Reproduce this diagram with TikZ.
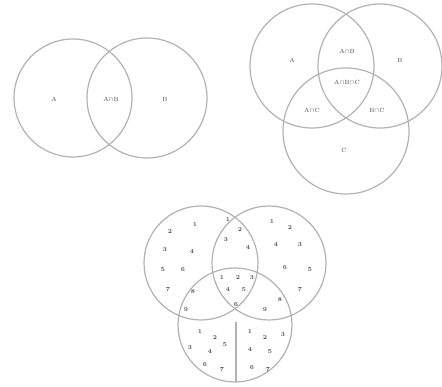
\documentclass[tikz,border=0pt]{standalone}
\begin{document}
\begin{tikzpicture}[x=1pt,y=-1pt,
  setc/.style={draw=gray!60,line width=1.2pt},
  lab/.style={font=\fontsize{6}{6}\selectfont,text=gray!60!black,inner sep=0.5pt},
  num/.style={font=\fontsize{6}{6}\selectfont\bfseries,text=gray!60!black,inner sep=0.3pt}]
\useasboundingbox (0,0) rectangle (442,387);
% two-set
\draw[setc] (73,98) circle (59);
\draw[setc] (147,98) circle (60);
\node[lab] (a2) at (54,99) {A};
\node[lab] (ab2) at (111,99) {A$\cap$B};
\node[lab] (b2) at (165,99) {B};
% three-set
\draw[setc] (312,66) circle (62);
\draw[setc] (380,66) circle (62);
\draw[setc] (346,131) circle (63);
\node[lab] (a3) at (292,60) {A};
\node[lab] (b3) at (400,60) {B};
\node[lab] (ab3) at (347,51) {A$\cap$B};
\node[lab] (abc3) at (347,82) {A$\cap$B$\cap$C};
\node[lab] (ac3) at (312,110) {A$\cap$C};
\node[lab] (bc3) at (377,110) {B$\cap$C};
\node[lab] (c3) at (344,150) {C};
% four-set
\draw[setc] (201,263) circle (57);
\draw[setc] (269,263) circle (57);
\draw[setc] (235,325) circle (57);
\coordinate (v1) at (236,322);
\coordinate (v2) at (236,382);
\draw[setc] (v1) -- (v2);
\foreach \p/\t in {(195,225)/1,(170,232)/2,(165,250)/3,(192,252)/4,(163,270)/5,(183,270)/6,(168,290)/7,(193,292)/8,(186,310)/9,
 (228,220)/1,(240,230)/2,(226,240)/3,(248,248)/4,
 (272,222)/1,(290,228)/2,(300,245)/3,(276,245)/4,(310,270)/5,(285,268)/6,(300,290)/7,(280,300)/8,(265,310)/9,
 (222,278)/1,(238,278)/2,(252,278)/3,(228,290)/4,(244,290)/5,(236,305)/6,
 (200,332)/1,(215,338)/2,(190,348)/3,(210,352)/4,(225,345)/5,(205,365)/6,(222,370)/7,
 (250,332)/1,(265,338)/2,(283,335)/3,(250,350)/4,(270,352)/5,(252,368)/6,(268,370)/7}
  \node[num] at \p {\t};
\end{tikzpicture}
\end{document}
